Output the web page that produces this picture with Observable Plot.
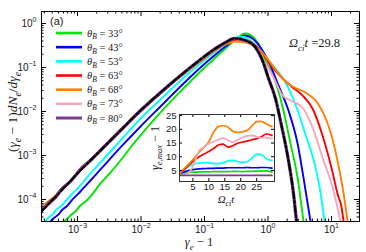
<!DOCTYPE html>
<html><head><meta charset="utf-8">
<script src="https://cdn.jsdelivr.net/npm/d3@7"></script>
<script src="https://cdn.jsdelivr.net/npm/@observablehq/plot@0.6"></script>
<style>
html,body{margin:0;padding:0;background:#fff;}
#chart{position:relative;width:366px;height:252px;}
#chart svg{display:block;}
#inset{position:absolute;left:149px;top:112px;}
</style></head><body><div id="chart"><div id="main"></div><div id="inset"></div></div>
<script>
// ---------- data ----------
const angles = ["33","43","53","63","68","73","80"];
const colors = ["#00e600","#0000ff","#00ffff","#ff0000","#ff8000","#f7a6be","#7b3b90"];

// main panel: (gamma_e - 1) and (gamma_e - 1) dN/dgamma for each theta_B
const x33 = [6.02e-4,6.97e-4,8.05e-4,9.30e-4,1.11e-3,1.34e-3,1.60e-3,2.30e-3,3.31e-3,4.75e-3,6.84e-3,9.82e-3,2.03e-2,4.19e-2,8.65e-2,0.149,0.214,0.308,0.442,0.613,0.762,0.914,1.22,1.69,2.26,2.92,3.62];
const y33 = [3.16e-5,3.70e-5,4.56e-5,5.34e-5,7.31e-5,9.01e-5,1.17e-4,2.31e-4,4.11e-4,7.70e-4,1.52e-3,2.85e-3,9.49e-3,2.85e-2,8.11e-2,0.169,0.270,0.433,0.593,0.456,0.285,0.144,6.24e-2,1.30e-2,1.87e-3,3.16e-4,3.16e-5];
const x43 = [3.76e-4,4.35e-4,5.02e-4,5.81e-4,6.71e-4,8.34e-4,1.11e-3,1.60e-3,2.30e-3,4.75e-3,9.82e-3,2.03e-2,4.19e-2,8.65e-2,0.149,0.214,0.308,0.427,0.570,0.762,0.947,1.09,1.46,2.10,2.92,3.62,4.67];
const y43 = [3.16e-5,3.90e-5,4.56e-5,5.93e-5,6.93e-5,1.00e-4,1.52e-4,2.70e-4,4.81e-4,1.52e-3,4.56e-3,1.30e-2,3.70e-2,0.100,0.197,0.300,0.433,0.534,0.456,0.285,0.169,0.111,3.90e-2,1.05e-2,1.87e-3,3.16e-4,3.16e-5];
const x53 = [3.13e-4,3.49e-4,4.03e-4,4.67e-4,5.40e-4,7.76e-4,1.11e-3,1.60e-3,2.30e-3,4.75e-3,9.82e-3,2.03e-2,4.19e-2,8.65e-2,0.149,0.214,0.369,0.530,0.762,1.02,1.31,1.89,2.71,3.90,5.60,6.71,7.76];
const y53 = [3.16e-5,3.90e-5,4.56e-5,5.93e-5,6.93e-5,1.23e-4,2.08e-4,3.90e-4,6.93e-4,2.19e-3,6.93e-3,1.87e-2,5.07e-2,0.123,0.231,0.333,0.507,0.411,0.243,0.144,9.49e-2,4.56e-2,1.44e-2,3.00e-3,5.34e-4,1.44e-4,3.16e-5];
const x63 = [2.71e-4,3.13e-4,3.76e-4,4.51e-4,5.40e-4,7.76e-4,1.11e-3,1.60e-3,2.30e-3,4.75e-3,9.82e-3,2.03e-2,4.19e-2,8.65e-2,0.149,0.214,0.319,0.458,0.659,0.914,1.18,1.52,2.34,3.49,5.02,7.22,10.4,12.4,14.4,15.5];
const y63 = [6.24e-5,6.93e-5,8.55e-5,1.17e-4,1.52e-4,2.57e-4,4.56e-4,7.70e-4,1.30e-3,3.70e-3,1.00e-2,2.57e-2,6.24e-2,0.144,0.257,0.351,0.433,0.411,0.300,0.169,0.100,6.58e-2,3.70e-2,2.31e-2,1.17e-2,2.85e-3,4.11e-4,1.37e-4,6.58e-5,3.16e-5];
const x68 = [2.71e-4,3.13e-4,3.76e-4,4.51e-4,5.40e-4,7.76e-4,1.11e-3,1.60e-3,2.30e-3,4.75e-3,9.82e-3,2.03e-2,4.19e-2,8.65e-2,0.149,0.214,0.308,0.442,0.636,0.914,1.31,1.69,2.43,3.90,6.24,8.35,10.0,12.4,15.5,17.9];
const y68 = [7.69e-5,8.11e-5,1.00e-4,1.23e-4,1.69e-4,2.70e-4,4.81e-4,8.11e-4,1.37e-3,3.90e-3,1.05e-2,2.70e-2,6.24e-2,0.137,0.243,0.333,0.390,0.370,0.300,0.178,9.01e-2,5.62e-2,3.70e-2,2.70e-2,1.44e-2,6.24e-3,2.85e-3,7.70e-4,1.37e-4,3.16e-5];
const x73 = [2.71e-4,3.13e-4,3.76e-4,4.51e-4,5.40e-4,7.76e-4,1.11e-3,1.60e-3,2.30e-3,4.75e-3,9.82e-3,2.03e-2,4.19e-2,8.65e-2,0.149,0.214,0.308,0.442,0.636,0.819,1.02,1.18,1.69,2.43,3.49,5.02,7.22,10.4,12.4,13.9];
const y73 = [6.58e-5,7.31e-5,8.11e-5,1.11e-4,1.60e-4,2.70e-4,4.56e-4,7.70e-4,1.30e-3,3.70e-3,1.05e-2,2.70e-2,6.58e-2,0.152,0.270,0.370,0.456,0.411,0.285,0.160,9.49e-2,6.58e-2,2.31e-2,1.69e-2,1.23e-2,4.33e-3,9.01e-4,1.87e-4,6.58e-5,3.16e-5];
const x80 = [2.71e-4,3.13e-4,3.76e-4,4.51e-4,5.40e-4,7.76e-4,1.11e-3,1.60e-3,2.30e-3,4.75e-3,9.82e-3,2.03e-2,4.19e-2,8.65e-2,0.149,0.214,0.297,0.442,0.636,0.819,1.02,1.31,1.63,2.10,2.52,2.81];
const y80 = [5.93e-5,6.93e-5,9.01e-5,1.11e-4,1.60e-4,2.57e-4,4.81e-4,7.70e-4,1.30e-3,3.70e-3,1.05e-2,2.70e-2,6.58e-2,0.152,0.270,0.370,0.456,0.411,0.285,0.144,5.62e-2,1.97e-2,4.81e-3,7.70e-4,1.37e-4,3.16e-5];
// dash-dot reference curve
const xFit = [2.71e-4,5.40e-4,1.11e-3,2.30e-3,4.75e-3,9.82e-3,2.03e-2,4.19e-2,8.65e-2,0.149,0.214,0.297,0.442,0.636,0.819,1.02,1.31,1.63,2.10,2.52,2.81];
const yFit = [5.34e-5,1.52e-4,4.56e-4,1.30e-3,3.70e-3,1.05e-2,2.70e-2,6.58e-2,0.152,0.270,0.370,0.456,0.411,0.285,0.144,5.62e-2,1.97e-2,4.81e-3,7.70e-4,1.37e-4,3.16e-5];

// inset: gamma_e,max - 1 versus Omega_ci t
const tInset = [1,2.5,4,5.5,7,8.5,10,11.5,13,14.5,16,17.5,19,20.5,22,23.5,25,26.5,28,29.8];
const gmax33 = [3.8,4.1,4.3,4.4,4.5,4.5,4.5,4.6,4.6,4.6,4.6,4.7,4.7,4.6,4.7,4.7,4.8,4.8,4.9,4.4];
const gmax43 = [4.0,4.6,5.1,5.4,5.6,5.7,5.8,5.8,5.9,5.9,6.0,6.0,6.0,6.0,6.1,6.0,6.0,6.1,6.1,5.9];
const gmax53 = [4.2,5.5,6.6,7.4,7.7,7.9,7.8,7.6,7.5,7.8,8.5,8.7,8.3,8.0,8.2,9.5,11.0,10.8,9.3,8.7];
const gmax63 = [4.2,5.6,7.2,8.8,10.0,11.0,11.9,13.0,14.3,14.6,13.5,14.0,14.9,15.4,15.7,16.2,16.6,17.3,18.3,17.8];
const gmax68 = [4.2,6.0,7.7,9.6,11.8,13.5,15.5,19.0,21.0,21.3,20.8,19.3,18.9,19.1,19.6,21.2,22.8,22.9,22.0,21.0];
const gmax73 = [3.5,3.6,4.5,8.0,12.3,13.5,14.8,15.5,16.2,16.8,16.0,15.3,16.2,17.0,17.6,17.8,17.3,16.9,17.0,16.6];
const gmax80 = [3.2,3.2,3.2,3.2,3.2,3.2,3.2,3.2,3.2,3.2,3.2,3.2,3.2,3.2,3.2,3.2,3.2,3.2,3.2,3.2];

// ticks and labels
const xTicks = [1e-3,1e-2,1e-1,1,10];
const xTickExp = ["−3","−2","−1","0","1"];
const yTicks = [1e-4,1e-3,1e-2,1e-1,1];
const yTickExp = ["−4","−3","−2","−1","0"];
const insetTicks = [5,10,15,20,25];
const timeValue = "29.8";
const panelTag = "(a)";

// ---------- build tables ----------
const XS = {"33":x33,"43":x43,"53":x53,"63":x63,"68":x68,"73":x73,"80":x80};
const YS = {"33":y33,"43":y43,"53":y53,"63":y63,"68":y68,"73":y73,"80":y80};
const GM = {"33":gmax33,"43":gmax43,"53":gmax53,"63":gmax63,"68":gmax68,"73":gmax73,"80":gmax80};
const spectra = angles.filter(a => a !== "80").flatMap(a => XS[a].map((x,i) => ({angle:a, x, y:YS[a][i]})));
const spectra80 = x80.map((x,i) => ({angle:"80", x, y:y80[i]}));
const fit = xFit.map((x,i) => ({x, y:yFit[i]}));
const insetRows = angles.flatMap(a => tInset.map((t,i) => ({angle:a, t, v:GM[a][i]})));

const W = 366, H = 252, mL = 41, mR = 7, mT = 11, mB = 31;
const fw = W - mL - mR, fh = H - mT - mB;
const xDom = [2.71e-4, 27.6], yDom = [3.16e-5, 1.87];
function minorTicks(lo, hi) {
  const out = [];
  for (let k = -6; k <= 3; k++) for (let m = 2; m <= 9; m++) { const v = m * Math.pow(10, k); if (v > lo && v < hi) out.push(v); }
  return out;
}
const xMinor = minorTicks(...xDom), yMinor = minorTicks(...yDom);
const sans = "'Liberation Sans', Arial, sans-serif";
const serif = "'Liberation Serif', 'DejaVu Serif', serif";
const inkColor = "#1a1a1a";

const main = Plot.plot({
  width: W, height: H, marginLeft: mL, marginRight: mR, marginTop: mT, marginBottom: mB,
  style: {background: "white", fontFamily: sans, overflow: "visible"},
  x: {type: "log", domain: xDom, label: null},
  y: {type: "log", domain: yDom, label: null},
  color: {domain: angles, range: colors},
  marks: [
    Plot.line(spectra, {x: "x", y: "y", z: "angle", stroke: "angle", strokeWidth: 1.9, curve: "monotone-x", clip: true}),
    Plot.line(spectra80, {x: "x", y: "y", stroke: "angle", strokeWidth: 3.3, curve: "monotone-x", clip: true}),
    Plot.line(fit, {x: "x", y: "y", stroke: "black", strokeWidth: 2.2, strokeDasharray: "7,2.5,2,2.5", curve: "monotone-x", clip: true}),
    Plot.axisX(xTicks, {tickSize: 0, tickPadding: 4, fontSize: 10, fill: inkColor, label: null,
      tickFormat: d => "10^" + xTickExp[xTicks.indexOf(d)]}),
    Plot.axisY(yTicks, {tickSize: 0, tickPadding: 5, fontSize: 10, fill: inkColor, label: null,
      tickFormat: d => "10^" + yTickExp[yTicks.indexOf(d)]}),
    Plot.tickX(xTicks, {x: d => d, insetTop: fh - 5, stroke: "black"}),
    Plot.tickX(xTicks, {x: d => d, insetBottom: fh - 5, stroke: "black"}),
    Plot.tickX(xMinor, {x: d => d, insetTop: fh - 2.5, stroke: "black"}),
    Plot.tickX(xMinor, {x: d => d, insetBottom: fh - 2.5, stroke: "black"}),
    Plot.tickY(yTicks, {y: d => d, insetRight: fw - 5, stroke: "black"}),
    Plot.tickY(yTicks, {y: d => d, insetLeft: fw - 5, stroke: "black"}),
    Plot.tickY(yMinor, {y: d => d, insetRight: fw - 2.5, stroke: "black"}),
    Plot.tickY(yMinor, {y: d => d, insetLeft: fw - 2.5, stroke: "black"}),
    Plot.frame({stroke: "black", strokeWidth: 1})
  ]
});
document.getElementById("main").appendChild(main);

// superscripts in the log tick labels
d3.select(main).selectAll("text").each(function() {
  const s = this.textContent;
  if (!s.startsWith("10^")) return;
  const exp = s.slice(3);
  const el = d3.select(this);
  el.text(null);
  el.append("tspan").text("10");
  el.append("tspan").attr("font-size", 7).attr("dy", -4.5).text(exp);
});

const svg = d3.select(main);
function mathText(g, x, y, parts, size, opts = {}) {
  const t = g.append("text").attr("x", x).attr("y", y).attr("font-family", serif)
    .attr("font-size", size).attr("fill", inkColor).attr("text-anchor", opts.anchor || "start");
  if (opts.transform) t.attr("transform", opts.transform).attr("x", 0).attr("y", 0);
  let shift = 0;
  parts.forEach(p => {
    const ts = t.append("tspan").text(p.s);
    if (p.i) ts.attr("font-style", "italic");
    const target = p.sub ? size * 0.28 : 0;
    if (p.sub) ts.attr("font-size", size * 0.72);
    if (target !== shift) { ts.attr("dy", target - shift); shift = target; }
  });
  return t;
}

// panel tag
svg.append("text").attr("x", 50).attr("y", 25).attr("font-family", sans).attr("font-size", 11)
  .attr("fill", inkColor).attr("text-anchor", "start").text(panelTag);

// legend
const leg = svg.append("g");
angles.forEach((a, i) => {
  const yy = 33 + i * 14.17;
  leg.append("line").attr("x1", 56).attr("x2", 82).attr("y1", yy).attr("y2", yy)
    .attr("stroke", colors[i]).attr("stroke-width", a === "80" ? 3 : 2.6);
  mathText(leg, 87, yy + 3.5, [{s: "θ", i: true}, {s: "B", i: true, sub: true}, {s: " = " + a + "°"}], 10.5);
});

// time annotation
mathText(svg, 289, 47, [{s: "Ω", i: true}, {s: "ci", i: true, sub: true}, {s: "t", i: true}, {s: " =" + timeValue}], 12.5);

// axis titles
mathText(svg, 199, 246, [{s: "γ", i: true}, {s: "e", i: true, sub: true}, {s: " − 1"}], 12.5, {anchor: "middle"});
mathText(svg, 0, 0, [{s: "("}, {s: "γ", i: true}, {s: "e", i: true, sub: true}, {s: " − 1)"}, {s: "dN", i: true},
  {s: "e", i: true, sub: true}, {s: "/"}, {s: "dγ", i: true}, {s: "e", i: true, sub: true}], 13.5,
  {anchor: "middle", transform: "translate(17,112) rotate(-90)"});

// inset titles (drawn on main svg, under the transparent inset)
mathText(svg, 226, 203, [{s: "Ω", i: true}, {s: "ci", i: true, sub: true}, {s: "t", i: true}], 11, {anchor: "middle"});
mathText(svg, 0, 0, [{s: "γ", i: true}, {s: "e,max", i: true, sub: true}, {s: " − 1"}], 12,
  {anchor: "middle", transform: "translate(159,148) rotate(-90)"});

// ---------- inset ----------
const iw = 127, ih = 99, iL = 30, iR = 2, iT = 2, iB = 30;
const ifw = iw - iL - iR, ifh = ih - iT - iB;
const inset = Plot.plot({
  width: iw, height: ih, marginLeft: iL, marginRight: iR, marginTop: iT, marginBottom: iB,
  style: {background: "transparent", fontFamily: sans, overflow: "visible"},
  x: {domain: [0.8, 30.6], label: null},
  y: {domain: [1, 25.4], label: null},
  color: {domain: angles, range: colors},
  marks: [
    Plot.frame({fill: "white", stroke: null}),
    Plot.line(insetRows, {x: "t", y: "v", z: "angle", stroke: "angle", strokeWidth: 1.7, curve: "monotone-x", clip: true}),
    Plot.axisX(insetTicks, {tickSize: 0, tickPadding: 2, fontSize: 9.5, fill: inkColor, label: null}),
    Plot.axisY(insetTicks, {tickSize: 0, tickPadding: 3, fontSize: 9.5, fill: inkColor, label: null}),
    Plot.tickX(insetTicks, {x: d => d, insetTop: ifh - 3, stroke: "black"}),
    Plot.tickX(insetTicks, {x: d => d, insetBottom: ifh - 3, stroke: "black"}),
    Plot.tickY(insetTicks, {y: d => d, insetRight: ifw - 3, stroke: "black"}),
    Plot.tickY(insetTicks, {y: d => d, insetLeft: ifw - 3, stroke: "black"}),
    Plot.frame({stroke: "#333", strokeWidth: 1})
  ]
});
document.getElementById("inset").appendChild(inset);
</script></body></html>
